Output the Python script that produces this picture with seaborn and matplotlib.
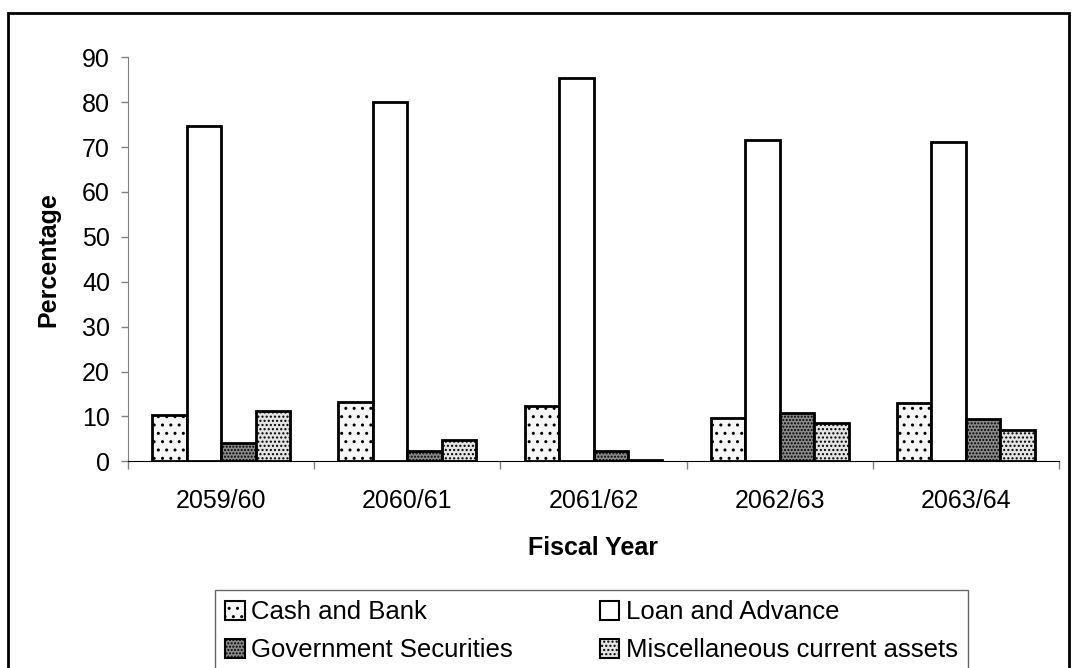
import pandas as pd
import matplotlib.pyplot as plt
import matplotlib.patches as mpatches
import seaborn as sns

# datos
years = ['2059/60', '2060/61', '2061/62', '2062/63', '2063/64']
cash_bank = [10.3, 13.1, 12.4, 9.6, 12.9]
loan_advance = [74.7, 80.0, 85.4, 71.5, 71.1]
govt_securities = [4.1, 2.4, 2.2, 10.7, 9.5]
misc_assets = [11.3, 4.8, 0.3, 8.5, 6.9]

series = ['Cash and Bank', 'Loan and Advance', 'Government Securities',
          'Miscellaneous current assets']
colors = ['#f6f6f6', '#ffffff', '#8a8a8a', '#e4e4e4']
hatches = ['..', '', '.....', '....']

df = pd.DataFrame({
    'Fiscal Year': years * 4,
    'Percentage': cash_bank + loan_advance + govt_securities + misc_assets,
    'Serie': [s for s in series for _ in years],
})

sns.set_style('white')
plt.rcParams['font.family'] = ['Liberation Sans', 'DejaVu Sans']
plt.rcParams['text.color'] = 'black'
plt.rcParams['axes.labelcolor'] = 'black'
plt.rcParams['xtick.color'] = 'black'
plt.rcParams['ytick.color'] = 'black'
plt.rcParams['hatch.linewidth'] = 1.0

fig = plt.figure(figsize=(10.74, 6.68), dpi=100)
ax = fig.add_axes([128 / 1074, 1 - 461.3 / 668, 931 / 1074, 404 / 668])

sns.barplot(data=df, x='Fiscal Year', y='Percentage', hue='Serie',
            hue_order=series, palette=colors, width=0.74,
            edgecolor='black', linewidth=2, ax=ax, legend=False)

for cont, h in zip(ax.containers, hatches):
    for bar in cont:
        bar.set_hatch(h)

ax.set_xlim(-0.5, 4.5)
ax.set_ylim(0, 90)
ax.set_yticks(range(0, 91, 10))
ax.tick_params(axis='y', labelsize=18, length=5, width=1, color='#808080',
               labelcolor='black', pad=8, left=True)
ax.set_xticks(range(5), labels=years)
ax.tick_params(axis='x', which='major', labelsize=18, length=0, pad=20, labelcolor='black')
ax.set_xticks([i - 0.5 for i in range(6)], minor=True)
ax.tick_params(axis='x', which='minor', length=6, width=1, color='#808080', bottom=True)

ax.spines['top'].set_visible(False)
ax.spines['right'].set_visible(False)
ax.spines['left'].set_color('#808080')
ax.spines['bottom'].set_color('black')

ax.set_ylabel('Percentage', fontsize=18, fontweight='bold', va='center', ha='center')
ax.set_xlabel('Fiscal Year', fontsize=18, fontweight='bold', va='center', ha='center')
ax.yaxis.set_label_coords(-0.086, 0.5)
ax.xaxis.set_label_coords(0.5, -0.215)

# leyenda (orden por columnas)
handles = [mpatches.Patch(facecolor=c, edgecolor='black', hatch=h, linewidth=1.5)
           for c, h in zip(colors, hatches)]
order = [0, 2, 1, 3]
leg = fig.legend([handles[i] for i in order], [series[i] for i in order],
                 loc='upper left', bbox_to_anchor=(215 / 1074, 1 - 590 / 668),
                 ncol=2, fontsize=18.5, frameon=True, fancybox=False,
                 edgecolor='#404040', borderpad=0.4, handlelength=0.75,
                 handleheight=0.75, handletextpad=0.25, columnspacing=3.4,
                 labelspacing=0.55, borderaxespad=0)
leg.get_frame().set_linewidth(1)

# marco exterior
fig.patches.append(mpatches.Rectangle((8 / 1074, -0.05), 1061 / 1074, 1.05 - 13 / 668,
                                      transform=fig.transFigure, fill=False,
                                      edgecolor='black', linewidth=2))

plt.savefig('out.png', dpi=100)
